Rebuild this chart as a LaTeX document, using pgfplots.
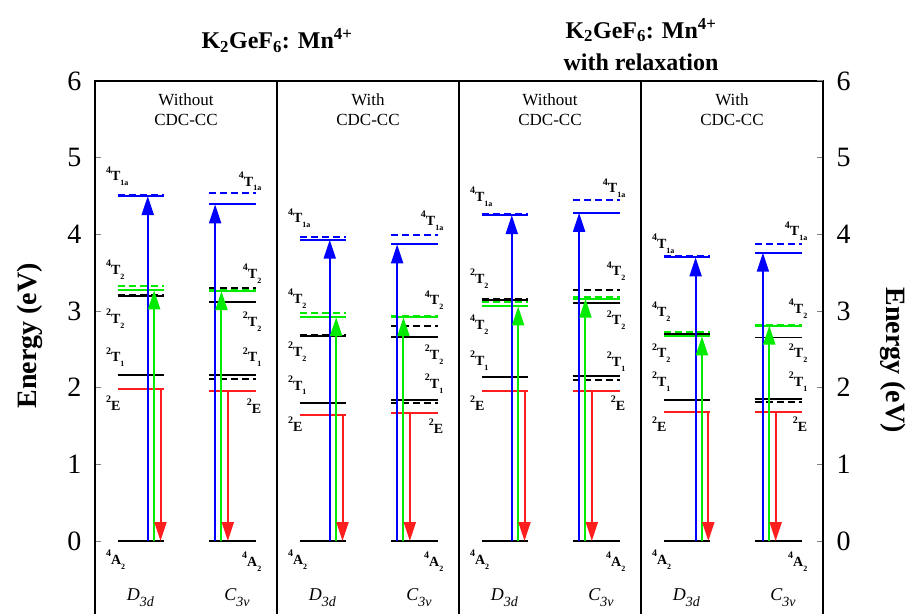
\documentclass[border=0pt]{standalone}
\usepackage{pgfplots}
\pgfplotsset{compat=1.18}
\usepackage{fontspec}
\setmainfont{Liberation Serif}
\usetikzlibrary{arrows.meta}
\definecolor{cblue}{RGB}{0,0,255}
\definecolor{cgreen}{RGB}{0,235,0}
\definecolor{cred}{RGB}{255,30,30}
\newcommand{\term}[3]{\raisebox{0.55em}{\fontsize{10}{10}\selectfont #1}#2\raisebox{-0.35em}{\fontsize{8}{8}\selectfont #3}}
\newcommand{\grp}[2]{\textit{#1}\raisebox{-0.3em}{\fontsize{14}{14}\selectfont\textit{#2}}}
\begin{document}
\begin{tikzpicture}
\tikzset{
  lev/.style={line width=2pt},
  dsh/.style={line width=2pt, dash pattern=on 7pt off 4pt},
  arr/.style={line width=2pt, -{Triangle[width=12pt,length=19pt]}},
  lab/.style={font=\fontsize{14}{14}\selectfont\bfseries, inner sep=0pt},
}
\begin{axis}[name=main, at={(0,0)}, anchor=south west,
  scale only axis, width=728pt, height=536.7pt,
  xmin=0, xmax=4, ymin=-1, ymax=6, clip=false,
  xtick={1,2,3}, xticklabels={}, xmajorgrids=true,
  x grid style={black, line width=1.2pt}, x tick style={draw=none},
  ytick={0,1,2,3,4,5,6}, ytick pos=left, tick align=inside,
  major tick length=6pt, y tick style={line width=1pt},
  axis line style={line width=1.2pt},
  /pgf/number format/assume math mode=true,
  yticklabel style={font=\fontsize{28}{28}\selectfont, xshift=-10pt},
  ylabel={Energy (eV)},
  ylabel style={font=\fontsize{28}{28}\selectfont\bfseries, at={(axis description cs:-0.089,0.525)}, anchor=center},
  unbounded coords=jump,
]
% blue 4T1a solid
\addplot[cblue, lev] coordinates {(0.125,4.50) (0.38,4.50) (nan,nan) (0.625,4.39) (0.885,4.39) (nan,nan)
 (1.125,3.93) (1.38,3.93) (nan,nan) (1.625,3.87) (1.885,3.87) (nan,nan)
 (2.125,4.25) (2.38,4.25) (nan,nan) (2.625,4.28) (2.885,4.28) (nan,nan)
 (3.125,3.70) (3.38,3.70) (nan,nan) (3.625,3.76) (3.885,3.76)};
% blue dashed
\addplot[cblue, dsh] coordinates {(0.125,4.515) (0.38,4.515) (nan,nan) (0.625,4.54) (0.885,4.54) (nan,nan)
 (1.125,3.96) (1.38,3.96) (nan,nan) (1.625,3.99) (1.885,3.99) (nan,nan)
 (2.125,4.26) (2.38,4.26) (nan,nan) (2.625,4.45) (2.885,4.45) (nan,nan)
 (3.125,3.715) (3.38,3.715) (nan,nan) (3.625,3.88) (3.885,3.88)};
% black solid 2T2, 2T1
\addplot[black, lev] coordinates {(0.125,3.20) (0.38,3.20) (nan,nan) (0.625,3.12) (0.885,3.12) (nan,nan)
 (1.125,2.68) (1.38,2.68) (nan,nan) (1.625,2.66) (1.885,2.66) (nan,nan)
 (2.125,3.15) (2.38,3.15) (nan,nan) (2.625,3.10) (2.885,3.10) (nan,nan)
 (3.125,2.70) (3.38,2.70) (nan,nan)
 (0.125,2.16) (0.38,2.16) (nan,nan) (0.625,2.17) (0.885,2.17) (nan,nan)
 (1.125,1.80) (1.38,1.80) (nan,nan) (1.625,1.84) (1.885,1.84) (nan,nan)
 (2.125,2.14) (2.38,2.14) (nan,nan) (2.625,2.15) (2.885,2.15) (nan,nan)
 (3.125,1.835) (3.38,1.835) (nan,nan) (3.625,1.855) (3.885,1.855)};
\addplot[black, line width=1pt] coordinates {(3.625,2.66) (3.885,2.66)};
% black dashed
\addplot[black, dsh] coordinates {(0.125,3.21) (0.38,3.21) (nan,nan) (0.625,3.30) (0.885,3.30) (nan,nan)
 (1.125,2.685) (1.38,2.685) (nan,nan) (1.625,2.80) (1.885,2.80) (nan,nan)
 (2.125,3.16) (2.38,3.16) (nan,nan) (2.625,3.27) (2.885,3.27) (nan,nan)
 (3.125,2.705) (3.38,2.705) (nan,nan) (3.625,2.80) (3.885,2.80) (nan,nan)
 (0.125,2.165) (0.38,2.165) (nan,nan) (0.625,2.11) (0.885,2.11) (nan,nan)
 (1.125,1.805) (1.38,1.805) (nan,nan) (1.625,1.80) (1.885,1.80) (nan,nan)
 (2.125,2.145) (2.38,2.145) (nan,nan) (2.625,2.10) (2.885,2.10) (nan,nan)
 (3.125,1.84) (3.38,1.84) (nan,nan) (3.625,1.81) (3.885,1.81)};
% green solid
\addplot[cgreen, lev] coordinates {(0.125,3.27) (0.38,3.27) (nan,nan) (0.625,3.26) (0.885,3.26) (nan,nan)
 (1.125,2.92) (1.38,2.92) (nan,nan) (1.625,2.92) (1.885,2.92) (nan,nan)
 (2.125,3.06) (2.38,3.06) (nan,nan) (2.625,3.16) (2.885,3.16) (nan,nan)
 (3.125,2.67) (3.38,2.67) (nan,nan) (3.625,2.81) (3.885,2.81)};
% green dashed
\addplot[cgreen, dsh] coordinates {(0.125,3.33) (0.38,3.33) (nan,nan) (0.625,3.28) (0.885,3.28) (nan,nan)
 (1.125,2.98) (1.38,2.98) (nan,nan) (1.625,2.935) (1.885,2.935) (nan,nan)
 (2.125,3.12) (2.38,3.12) (nan,nan) (2.625,3.18) (2.885,3.18) (nan,nan)
 (3.125,2.73) (3.38,2.73) (nan,nan) (3.625,2.82) (3.885,2.82)};
% red 2E
\addplot[cred, lev] coordinates {(0.125,1.98) (0.38,1.98) (nan,nan) (0.625,1.96) (0.885,1.96) (nan,nan)
 (1.125,1.64) (1.38,1.64) (nan,nan) (1.625,1.67) (1.885,1.67) (nan,nan)
 (2.125,1.96) (2.38,1.96) (nan,nan) (2.625,1.96) (2.885,1.96) (nan,nan)
 (3.125,1.68) (3.38,1.68) (nan,nan) (3.625,1.68) (3.885,1.68)};
% ground 4A2
\addplot[black, lev] coordinates {(0.125,0) (0.38,0) (nan,nan) (0.625,0) (0.885,0) (nan,nan)
 (1.125,0) (1.38,0) (nan,nan) (1.625,0) (1.885,0) (nan,nan)
 (2.125,0) (2.38,0) (nan,nan) (2.625,0) (2.885,0) (nan,nan)
 (3.125,0) (3.38,0) (nan,nan) (3.625,0) (3.885,0)};
% blue arrows
\addplot[cblue, arr] coordinates {(0.29,0) (0.29,4.50)};
\addplot[cblue, arr] coordinates {(0.66,0) (0.66,4.39)};
\addplot[cblue, arr] coordinates {(1.29,0) (1.29,3.93)};
\addplot[cblue, arr] coordinates {(1.66,0) (1.66,3.87)};
\addplot[cblue, arr] coordinates {(2.29,0) (2.29,4.25)};
\addplot[cblue, arr] coordinates {(2.66,0) (2.66,4.28)};
\addplot[cblue, arr] coordinates {(3.30,0) (3.30,3.70)};
\addplot[cblue, arr] coordinates {(3.67,0) (3.67,3.76)};
% green arrows
\addplot[cgreen, arr] coordinates {(0.325,0) (0.325,3.27)};
\addplot[cgreen, arr] coordinates {(0.695,0) (0.695,3.26)};
\addplot[cgreen, arr] coordinates {(1.325,0) (1.325,2.92)};
\addplot[cgreen, arr] coordinates {(1.695,0) (1.695,2.92)};
\addplot[cgreen, arr] coordinates {(2.325,0) (2.325,3.06)};
\addplot[cgreen, arr] coordinates {(2.695,0) (2.695,3.16)};
\addplot[cgreen, arr] coordinates {(3.335,0) (3.335,2.67)};
\addplot[cgreen, arr] coordinates {(3.705,0) (3.705,2.81)};
% red arrows
\addplot[cred, arr] coordinates {(0.36,1.98) (0.36,0)};
\addplot[cred, arr] coordinates {(0.73,1.96) (0.73,0)};
\addplot[cred, arr] coordinates {(1.36,1.64) (1.36,0)};
\addplot[cred, arr] coordinates {(1.73,1.67) (1.73,0)};
\addplot[cred, arr] coordinates {(2.36,1.96) (2.36,0)};
\addplot[cred, arr] coordinates {(2.73,1.96) (2.73,0)};
\addplot[cred, arr] coordinates {(3.37,1.68) (3.37,0)};
\addplot[cred, arr] coordinates {(3.74,1.68) (3.74,0)};
% panel headers
\node[font=\fontsize{17}{20}\selectfont, align=center] at (0.5,5.62) {Without\\CDC-CC};
\node[font=\fontsize{17}{20}\selectfont, align=center] at (1.5,5.62) {With\\CDC-CC};
\node[font=\fontsize{17}{20}\selectfont, align=center] at (2.5,5.62) {Without\\CDC-CC};
\node[font=\fontsize{17}{20}\selectfont, align=center] at (3.5,5.62) {With\\CDC-CC};
\pgfplotsinvokeforeach{0,1,2,3}{
  \node[font=\fontsize{18}{18}\selectfont] at (#1+0.25,-0.74) {\grp{D}{3d}};
  \node[font=\fontsize{18}{18}\selectfont] at (#1+0.78,-0.74) {\grp{C}{3v}};
  \node[lab, anchor=west] at (#1+0.06,-0.24) {\term{4}{A}{2}};
  \node[lab, anchor=east] at (#1+0.915,-0.27) {\term{4}{A}{2}};
}
% level labels, panel 1
\node[lab, anchor=west] at (0.06,4.76) {\term{4}{T}{1a}};
\node[lab, anchor=west] at (0.06,3.54) {\term{4}{T}{2}};
\node[lab, anchor=west] at (0.06,2.90) {\term{2}{T}{2}};
\node[lab, anchor=west] at (0.06,2.40) {\term{2}{T}{1}};
\node[lab, anchor=west] at (0.06,1.77) {\term{2}{E}{}};
\node[lab, anchor=east] at (0.915,4.69) {\term{4}{T}{1a}};
\node[lab, anchor=east] at (0.915,3.49) {\term{4}{T}{2}};
\node[lab, anchor=east] at (0.915,2.86) {\term{2}{T}{2}};
\node[lab, anchor=east] at (0.915,2.40) {\term{2}{T}{1}};
\node[lab, anchor=east] at (0.915,1.73) {\term{2}{E}{}};
% panel 2
\node[lab, anchor=west] at (1.06,4.21) {\term{4}{T}{1a}};
\node[lab, anchor=west] at (1.06,3.16) {\term{4}{T}{2}};
\node[lab, anchor=west] at (1.06,2.47) {\term{2}{T}{2}};
\node[lab, anchor=west] at (1.06,2.03) {\term{2}{T}{1}};
\node[lab, anchor=west] at (1.06,1.49) {\term{2}{E}{}};
\node[lab, anchor=east] at (1.915,4.18) {\term{4}{T}{1a}};
\node[lab, anchor=east] at (1.915,3.14) {\term{4}{T}{2}};
\node[lab, anchor=east] at (1.915,2.43) {\term{2}{T}{2}};
\node[lab, anchor=east] at (1.915,2.05) {\term{2}{T}{1}};
\node[lab, anchor=east] at (1.915,1.47) {\term{2}{E}{}};
% panel 3
\node[lab, anchor=west] at (2.06,4.49) {\term{4}{T}{1a}};
\node[lab, anchor=west] at (2.06,3.42) {\term{2}{T}{2}};
\node[lab, anchor=west] at (2.06,2.82) {\term{4}{T}{2}};
\node[lab, anchor=west] at (2.06,2.35) {\term{2}{T}{1}};
\node[lab, anchor=west] at (2.06,1.77) {\term{2}{E}{}};
\node[lab, anchor=east] at (2.915,4.60) {\term{4}{T}{1a}};
\node[lab, anchor=east] at (2.915,3.52) {\term{4}{T}{2}};
\node[lab, anchor=east] at (2.915,2.88) {\term{2}{T}{2}};
\node[lab, anchor=east] at (2.915,2.34) {\term{2}{T}{1}};
\node[lab, anchor=east] at (2.915,1.77) {\term{2}{E}{}};
% panel 4
\node[lab, anchor=west] at (3.06,3.88) {\term{4}{T}{1a}};
\node[lab, anchor=west] at (3.06,2.99) {\term{4}{T}{2}};
\node[lab, anchor=west] at (3.06,2.45) {\term{2}{T}{2}};
\node[lab, anchor=west] at (3.06,2.08) {\term{2}{T}{1}};
\node[lab, anchor=west] at (3.06,1.49) {\term{2}{E}{}};
\node[lab, anchor=east] at (3.915,4.04) {\term{4}{T}{1a}};
\node[lab, anchor=east] at (3.915,3.03) {\term{4}{T}{2}};
\node[lab, anchor=east] at (3.915,2.45) {\term{2}{T}{2}};
\node[lab, anchor=east] at (3.915,2.08) {\term{2}{T}{1}};
\node[lab, anchor=east] at (3.915,1.49) {\term{2}{E}{}};
% titles
\node[font=\fontsize{24}{24}\selectfont\bfseries] at (1,6.53) {K\textsubscript{2}GeF\textsubscript{6}: Mn\textsuperscript{4+}};
\node[font=\fontsize{24}{32}\selectfont\bfseries, align=center] at (3,6.48) {K\textsubscript{2}GeF\textsubscript{6}: Mn\textsuperscript{4+}\\with relaxation};
\end{axis}
\begin{axis}[at={(main.south west)}, anchor=south west,
  scale only axis, width=728pt, height=536.7pt,
  xmin=0, xmax=4, ymin=-1, ymax=6,
  axis x line=none, axis y line*=right,
  ytick={0,1,2,3,4,5,6}, tick align=inside,
  major tick length=6pt, y tick style={line width=1pt},
  axis line style={line width=1.2pt, -},
  /pgf/number format/assume math mode=true,
  yticklabel style={font=\fontsize{28}{28}\selectfont, xshift=10pt},
  ylabel={Energy (eV)},
  ylabel style={font=\fontsize{28}{28}\selectfont\bfseries, at={(axis description cs:1.096,0.48)}, anchor=center, rotate=180},
]
\addplot[draw=none] coordinates {(0,0)};
\end{axis}
\pgfresetboundingbox
\path[use as bounding box] ([xshift=-95pt,yshift=4.7pt]main.south west) rectangle ([xshift=84pt,yshift=81pt]main.north east);
\end{tikzpicture}
\end{document}
